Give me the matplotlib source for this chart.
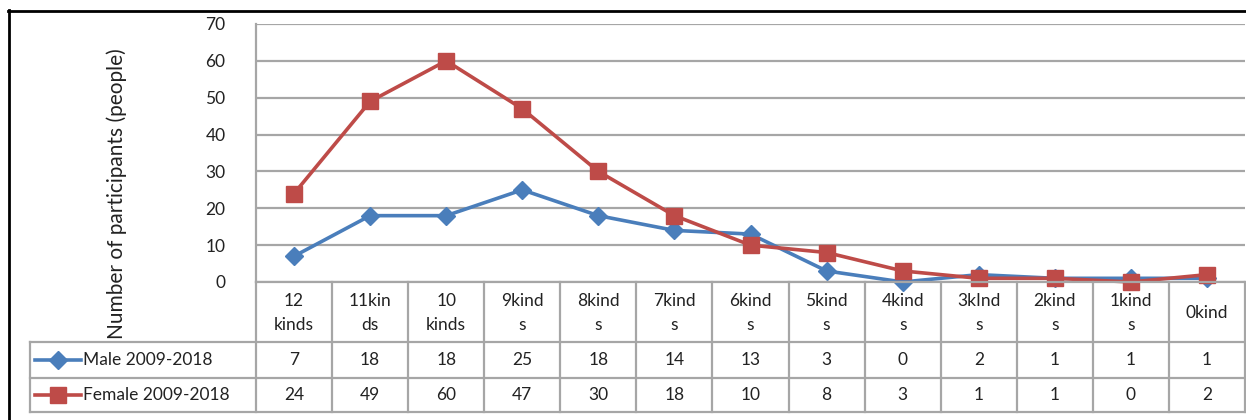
import matplotlib
matplotlib.use("Agg")
import matplotlib.pyplot as plt
from matplotlib.lines import Line2D

categories = ["12\nkinds", "11kin\nds", "10\nkinds", "9kind\ns", "8kind\ns", "7kind\ns",
              "6kind\ns", "5kind\ns", "4kind\ns", "3kInd\ns", "2kind\ns", "1kind\ns", "0kind"]
male = [7, 18, 18, 25, 18, 14, 13, 3, 0, 2, 1, 1, 1]
female = [24, 49, 60, 47, 30, 18, 10, 8, 3, 1, 1, 0, 2]
series_names = ["Male 2009-2018", "Female 2009-2018"]
y_ticks = [0, 10, 20, 30, 40, 50, 60, 70]

blue = "#4a7ebb"
red = "#be4b48"
grid = "#a6a6a6"
txt = "#222222"
fs = 12.5
plt.rcParams["font.family"] = ["Lato", "DejaVu Sans"]

W, H = 1246, 420
fig = plt.figure(figsize=(W / 100, H / 100), dpi=100)

# pixel layout of plot area and table
px_left, px_right, px_top, px_zero = 256, 1245, 24, 282
rows = [282, 342, 378, 412]  # table row boundaries
legend_left = 30

ax = fig.add_axes([px_left / W, 1 - px_zero / H, (px_right - px_left) / W, (px_zero - px_top) / H])
n = len(categories)
x = list(range(n))
ax.plot(x, male, color=blue, lw=2.6, marker="D", ms=9, mec=blue, mfc=blue, zorder=4,
        clip_on=False)
ax.plot(x, female, color=red, lw=2.6, marker="s", ms=12, mec=red, mfc=red, zorder=5,
        clip_on=False)
ax.set_xlim(-0.5, n - 0.5)
ax.set_ylim(0, 70)
ax.set_yticks(y_ticks)
ax.set_yticklabels([str(v) for v in y_ticks], fontsize=fs, color=txt)
ax.set_xticks([])
ax.tick_params(axis="y", length=0, pad=22)
for s in ["top", "right", "bottom"]:
    ax.spines[s].set_visible(False)
ax.spines["left"].set_color(grid)
ax.spines["left"].set_linewidth(1.6)
ax.yaxis.grid(True, color=grid, lw=1.6)
ax.set_axisbelow(True)

# overlay in pixel coordinates for the data table and frame
ov = fig.add_axes([0, 0, 1, 1], zorder=10)
ov.set_xlim(0, W)
ov.set_ylim(H, 0)
ov.axis("off")
ov.patch.set_alpha(0)

colw = (px_right - px_left) / n
edges = [px_left + i * colw for i in range(n + 1)]
# horizontal lines
ov.plot([px_left, px_right], [rows[0], rows[0]], color=grid, lw=1.6)
for r in rows[1:]:
    ov.plot([legend_left, px_right], [r, r], color=grid, lw=1.6)
# vertical lines
for e in edges:
    ov.plot([e, e], [rows[0], rows[3]], color=grid, lw=1.6)
ov.plot([legend_left, legend_left], [rows[1], rows[3]], color=grid, lw=1.6)

for i, lab in enumerate(categories):
    cx = (edges[i] + edges[i + 1]) / 2
    ov.text(cx, (rows[0] + rows[1]) / 2 + 1, lab, ha="center", va="center",
            fontsize=fs, color=txt, linespacing=1.55)
    ov.text(cx, (rows[1] + rows[2]) / 2, str(male[i]), ha="center", va="center",
            fontsize=fs, color=txt)
    ov.text(cx, (rows[2] + rows[3]) / 2, str(female[i]), ha="center", va="center",
            fontsize=fs, color=txt)

# legend keys inside the table
for k, (name, col, mk, ms) in enumerate(zip(series_names, [blue, red], ["D", "s"], [9, 12])):
    cy = (rows[k + 1] + rows[k + 2]) / 2
    ov.add_line(Line2D([35, 81], [cy, cy], color=col, lw=2.6))
    ov.plot([58], [cy], marker=mk, ms=ms, color=col, mec=col)
    ov.text(83, cy, name, ha="left", va="center", fontsize=fs, color=txt)

ov.text(117, 194, "Number of participants (people)", rotation=90, ha="center", va="center",
        fontsize=15, color=txt)

# outer chart frame (runs off the right and bottom edge)
ov.plot([8, W + 5], [10.5, 10.5], color="black", lw=2)
ov.plot([8.5, 8.5], [10, H + 5], color="black", lw=2)

fig.savefig("out.png", dpi=100)
